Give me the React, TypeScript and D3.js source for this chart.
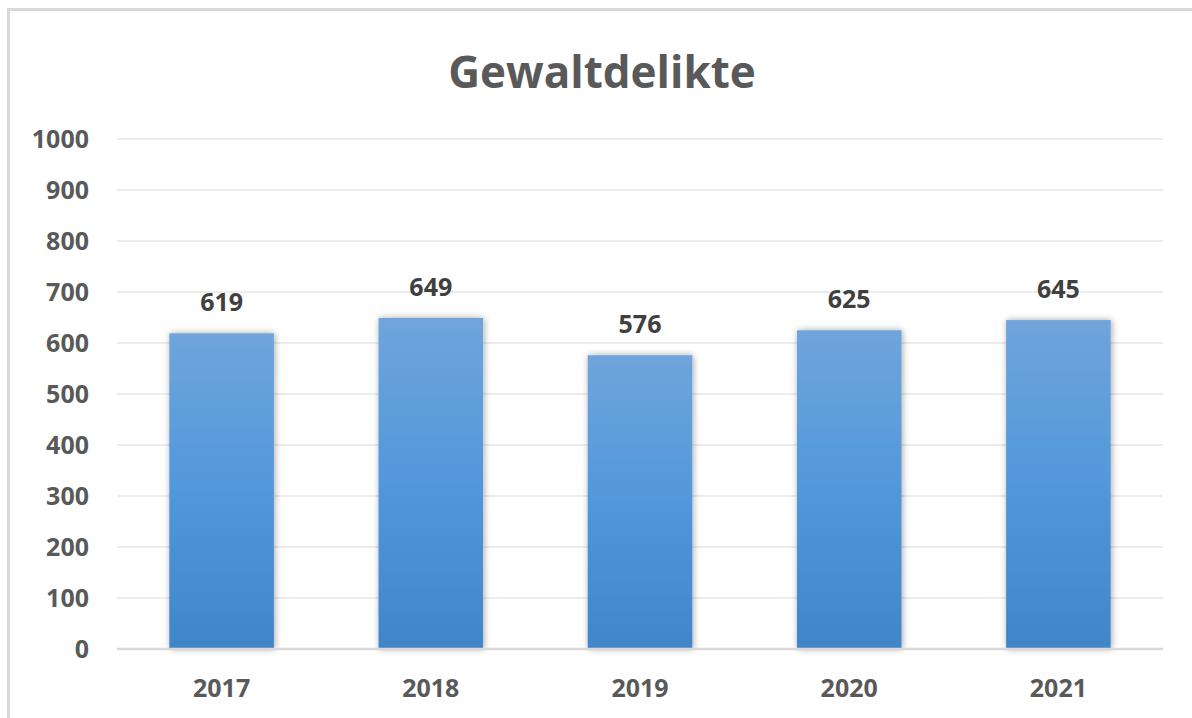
import React from "react";
import * as d3 from "d3";

const title = "Gewaltdelikte";
const years = ["2017", "2018", "2019", "2020", "2021"];
const values = [619, 649, 576, 625, 645];
const yTicks = [0, 100, 200, 300, 400, 500, 600, 700, 800, 900, 1000];

const W = 1192;
const H = 718;
const FONT = "'Open Sans', 'Noto Sans', sans-serif";
const TEXT = "#595959";

export default function App() {
  const x = d3
    .scaleBand<string>()
    .domain(years)
    .range([117, 1163])
    .paddingInner(0.5)
    .paddingOuter(0.25);
  const y = d3.scaleLinear().domain([0, 1000]).range([649, 139]);

  return (
    <svg
      width={W}
      height={H}
      style={{ position: "absolute", left: 0, top: 0, background: "#fff" }}
    >
      <defs>
        <linearGradient id="barGrad" x1="0" y1="0" x2="0" y2="1">
          <stop offset="0%" stopColor="#70a4db" />
          <stop offset="50%" stopColor="#5198db" />
          <stop offset="100%" stopColor="#3f86c8" />
        </linearGradient>
        <filter id="shadow" x="-20%" y="-5%" width="140%" height="110%">
          <feGaussianBlur in="SourceAlpha" stdDeviation="3.5" />
          <feOffset dx="1" dy="0" result="b" />
          <feComponentTransfer>
            <feFuncA type="linear" slope="0.35" />
          </feComponentTransfer>
          <feMerge>
            <feMergeNode />
            <feMergeNode in="SourceGraphic" />
          </feMerge>
        </filter>
      </defs>
      <rect x={0} y={0} width={W} height={H} fill="#fff" />
      <rect
        x={8.5}
        y={9.5}
        width={W + 20}
        height={H + 20}
        fill="none"
        stroke="#d9d9d9"
        strokeWidth={3}
      />
      <text
        x={(117 + 1163) / 2 - 38}
        y={88}
        textAnchor="middle"
        fontFamily={FONT}
        fontWeight={700}
        fontSize={44}
        fill={TEXT}
      >
        {title}
      </text>
      {yTicks.map((t) => (
        <g key={t}>
          {t !== 0 && (
            <line
              x1={117}
              x2={1163}
              y1={y(t)}
              y2={y(t)}
              stroke="#d9d9d9"
              strokeWidth={1.2}
            />
          )}
          <text
            x={89}
            y={y(t)}
            dy="0.35em"
            textAnchor="end"
            fontFamily={FONT}
            fontWeight={700}
            fontSize={25}
            fill={TEXT}
          >
            {t}
          </text>
        </g>
      ))}
      {years.map((yr, i) => (
        <g key={yr}>
          <rect
            x={x(yr)!}
            y={y(values[i])}
            width={x.bandwidth()}
            height={y(0) - y(values[i])}
            fill="url(#barGrad)"
            filter="url(#shadow)"
          />
          <text
            x={x(yr)! + x.bandwidth() / 2}
            y={y(values[i]) - 31}
            dy="0.35em"
            textAnchor="middle"
            fontFamily={FONT}
            fontWeight={700}
            fontSize={25}
            fill="#404040"
          >
            {values[i]}
          </text>
          <text
            x={x(yr)! + x.bandwidth() / 2}
            y={688}
            dy="0.35em"
            textAnchor="middle"
            fontFamily={FONT}
            fontWeight={700}
            fontSize={25}
            fill={TEXT}
          >
            {yr}
          </text>
        </g>
      ))}
      <line
        x1={117}
        x2={1163}
        y1={y(0)}
        y2={y(0)}
        stroke="#d9d9d9"
        strokeWidth={2.5}
      />
    </svg>
  );
}
